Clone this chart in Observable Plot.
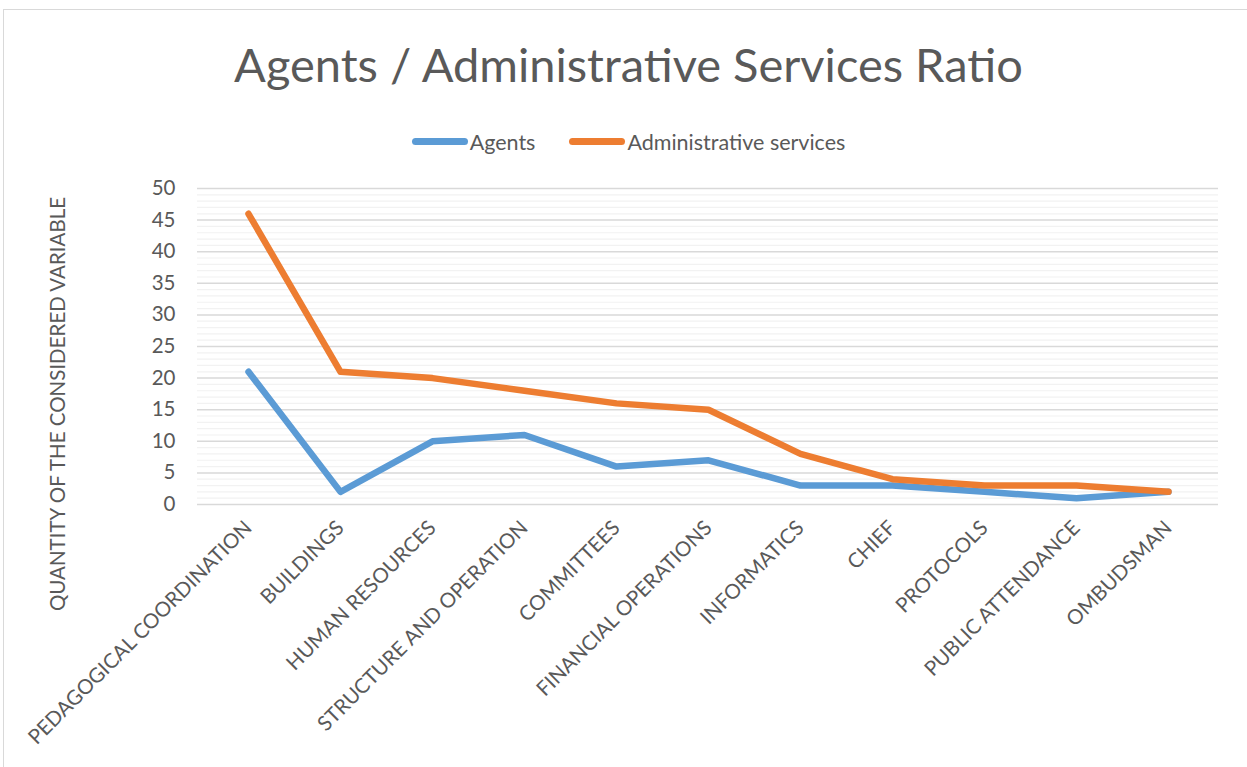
<!DOCTYPE html>
<html>
<head>
<meta charset="utf-8">
<script src="https://cdn.jsdelivr.net/npm/d3@7"></script>
<script src="https://cdn.jsdelivr.net/npm/@observablehq/plot@0.6"></script>
<style>
  body { margin: 0; background: #fff; font-family: Lato, "Open Sans", sans-serif; }
  #wrap { position: relative; width: 1247px; height: 767px; overflow: hidden; }
  #frame { position: absolute; left: 3px; top: 9px; width: 1400px; height: 900px; border: 1px solid #d9d9d9; box-sizing: border-box; }
  #title { position: absolute; left: 0; width: 1257px; top: 34px; text-align: center; font-size: 47px; color: #595959; line-height: 60px; }
  #legend { position: absolute; left: 0; width: 1257px; top: 124px; text-align: center; font-size: 21.5px; color: #595959; line-height: 26px; }
  .item { display: inline-flex; align-items: center; margin: 0 17px; }
  .sw { display: inline-block; width: 56px; height: 7px; border-radius: 3.5px; margin-right: 2px; }
  #chart { position: absolute; left: 0; top: 165px; }
  #ylabel { position: absolute; left: 57px; top: 404px; transform: translate(-50%, -50%) rotate(-90deg); white-space: nowrap; font-size: 20.5px; color: #595959; }
</style>
</head>
<body>
<div id="wrap">
  <div id="frame"></div>
  <div id="title">Agents / Administrative Services Ratio</div>
  <div id="legend"></div>
  <div id="chart"></div>
  <div id="ylabel"></div>
</div>
<script>
const categories = ["PEDAGOGICAL COORDINATION", "BUILDINGS", "HUMAN RESOURCES", "STRUCTURE AND OPERATION", "COMMITTEES", "FINANCIAL OPERATIONS", "INFORMATICS", "CHIEF", "PROTOCOLS", "PUBLIC ATTENDANCE", "OMBUDSMAN"];
const agents = [21, 2, 10, 11, 6, 7, 3, 3, 2, 1, 2];
const adminServices = [46, 21, 20, 18, 16, 15, 8, 4, 3, 3, 2];
const seriesNames = ["Agents", "Administrative services"];
const seriesColors = ["#5B9BD5", "#ED7D31"];
const yTicks = [0, 5, 10, 15, 20, 25, 30, 35, 40, 45, 50];
const yLabel = "QUANTITY OF THE CONSIDERED VARIABLE";

const rows = [];
categories.forEach((c, i) => {
  rows.push({category: c, series: seriesNames[0], value: agents[i]});
  rows.push({category: c, series: seriesNames[1], value: adminServices[i]});
});
const minor = d3.range(0, 51, 1).filter(v => v % 5 !== 0);

document.getElementById("ylabel").textContent = yLabel;
const legend = document.getElementById("legend");
seriesNames.forEach((s, i) => {
  const it = document.createElement("span");
  it.className = "item";
  it.innerHTML = `<span class="sw" style="background:${seriesColors[i]}"></span>${s}`;
  legend.appendChild(it);
});

const chart = Plot.plot({
  width: 1247,
  height: 602,
  marginTop: 23,
  marginBottom: 263,
  marginLeft: 197,
  marginRight: 29,
  style: {fontFamily: "Lato, 'Open Sans', sans-serif", color: "#595959", background: "transparent", overflow: "visible"},
  x: {type: "point", domain: categories, padding: 0.5, label: null},
  y: {domain: [0, 50], label: null},
  color: {domain: seriesNames, range: seriesColors},
  marks: [
    Plot.ruleY(minor, {stroke: "#f2f2f2", strokeWidth: 1.2}),
    Plot.ruleY(yTicks, {stroke: "#d9d9d9", strokeWidth: 1.5}),
    Plot.axisY(yTicks, {tickSize: 0, tickPadding: 22, fontSize: 20.5, label: null, fill: "#595959"}),
    Plot.axisX({tickSize: 0, tickRotate: -45, tickPadding: 20, fontSize: 20.5, textAnchor: "end", label: null, fill: "#595959"}),
    Plot.line(rows, {x: "category", y: "value", z: "series", stroke: "series", strokeWidth: 6.5, strokeLinecap: "round", strokeLinejoin: "round"})
  ]
});
document.getElementById("chart").appendChild(chart);
</script>
</body>
</html>
